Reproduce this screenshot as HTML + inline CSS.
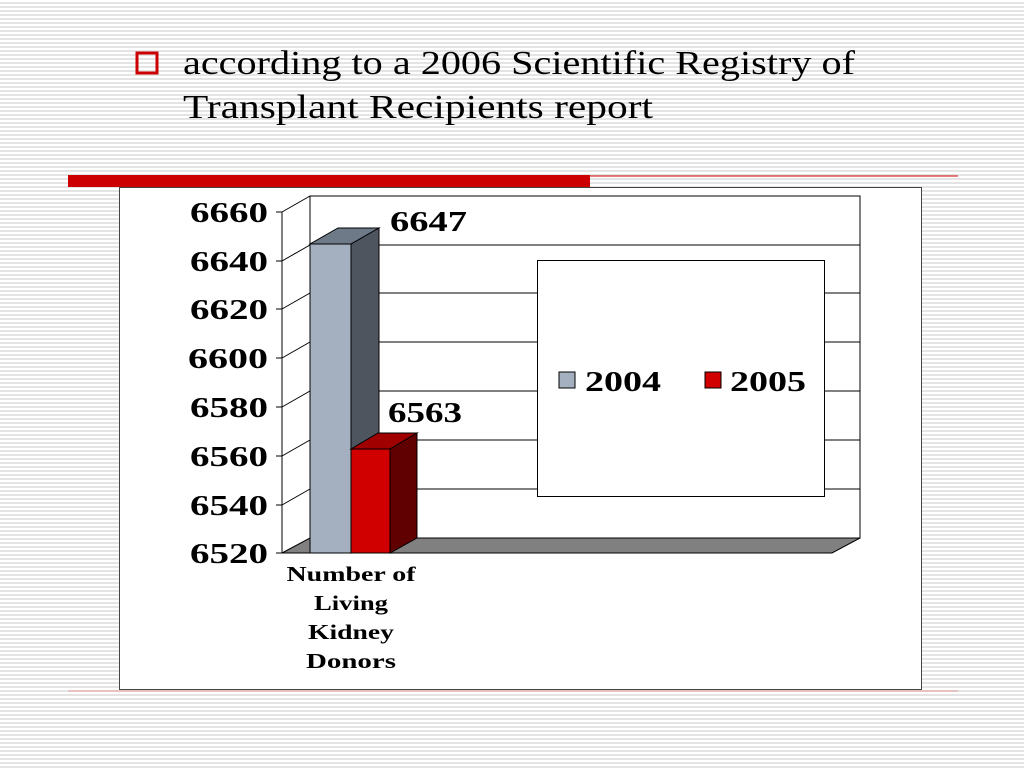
<!DOCTYPE html>
<html><head><style>
body{margin:0;width:1024px;height:768px;overflow:hidden;background:repeating-linear-gradient(#fff 0 2px,#e4e4e4 2px 4px);}
</style></head><body>
<svg width="1024" height="768" xmlns="http://www.w3.org/2000/svg" style="position:absolute;left:0;top:0">
<rect x="137" y="53" width="20" height="20" fill="none" stroke="#c00" stroke-width="3"/>
<text x="183" y="74" font-family="Liberation Serif, serif" font-size="34" fill="#000" textLength="672" lengthAdjust="spacingAndGlyphs">according to a 2006 Scientific Registry of</text>
<text x="183" y="118" font-family="Liberation Serif, serif" font-size="34" fill="#000" textLength="470" lengthAdjust="spacingAndGlyphs">Transplant Recipients report</text>
<rect x="68" y="175" width="522" height="12" fill="#c00"/>
<line x1="590" y1="176" x2="958" y2="176" stroke="#c00" stroke-width="1"/>
<line x1="68" y1="691" x2="958" y2="691" stroke="#e8a0a0" stroke-width="1"/>
<rect x="119.5" y="187.5" width="802" height="502" fill="#fff" stroke="#444"/>
<g stroke="#000" stroke-width="1" fill="none">
<rect x="310" y="196" width="550" height="342" fill="#fff"/>
<line x1="310" y1="245" x2="860" y2="245"/><line x1="310" y1="293" x2="860" y2="293"/>
<line x1="310" y1="342" x2="860" y2="342"/><line x1="310" y1="391" x2="860" y2="391"/>
<line x1="310" y1="440" x2="860" y2="440"/><line x1="310" y1="489" x2="860" y2="489"/>
<line x1="282" y1="212" x2="282" y2="553"/>
<line x1="282" y1="212" x2="310" y2="196"/><line x1="282" y1="261" x2="310" y2="245"/>
<line x1="282" y1="309" x2="310" y2="293"/><line x1="282" y1="358" x2="310" y2="342"/>
<line x1="282" y1="407" x2="310" y2="391"/><line x1="282" y1="456" x2="310" y2="440"/>
<line x1="282" y1="505" x2="310" y2="489"/>
<line x1="276" y1="212" x2="282" y2="212"/><line x1="276" y1="261" x2="282" y2="261"/>
<line x1="276" y1="309" x2="282" y2="309"/><line x1="276" y1="358" x2="282" y2="358"/>
<line x1="276" y1="407" x2="282" y2="407"/><line x1="276" y1="456" x2="282" y2="456"/>
<line x1="276" y1="505" x2="282" y2="505"/><line x1="276" y1="553" x2="282" y2="553"/>
<polygon points="282,553 832,553 860,538 310,538" fill="#808080"/>
<polygon points="310,244 351,244 379,228 338,228" fill="#6e7a88"/>
<polygon points="351,244 379,228 379,538 351,553" fill="#4e555e"/>
<rect x="310" y="244" width="41" height="309" fill="#a4b0c0"/>
<polygon points="351,449 390,449 417,433 378,433" fill="#a00000"/>
<polygon points="390,449 417,433 417,538 390,553" fill="#600000"/>
<rect x="351" y="449" width="39" height="104" fill="#d00000"/>
<rect x="537.5" y="260.5" width="287" height="236" fill="#fff"/>
<rect x="559" y="372" width="16" height="16" fill="#a4b0c0"/>
<rect x="705" y="372" width="16" height="16" fill="#d00000"/>
</g>
<g font-family="Liberation Serif, serif" font-weight="bold" font-size="29" fill="#000">
<text x="190" y="222" textLength="78" lengthAdjust="spacingAndGlyphs">6660</text>
<text x="190" y="271" textLength="78" lengthAdjust="spacingAndGlyphs">6640</text>
<text x="190" y="319" textLength="78" lengthAdjust="spacingAndGlyphs">6620</text>
<text x="188" y="368" textLength="80" lengthAdjust="spacingAndGlyphs">6600</text>
<text x="190" y="417" textLength="78" lengthAdjust="spacingAndGlyphs">6580</text>
<text x="190" y="466" textLength="78" lengthAdjust="spacingAndGlyphs">6560</text>
<text x="190" y="515" textLength="78" lengthAdjust="spacingAndGlyphs">6540</text>
<text x="190" y="563" textLength="78" lengthAdjust="spacingAndGlyphs">6520</text>
<text x="390" y="231" textLength="77" lengthAdjust="spacingAndGlyphs">6647</text>
<text x="388" y="422" textLength="74" lengthAdjust="spacingAndGlyphs">6563</text>
<text x="585" y="391" textLength="76" lengthAdjust="spacingAndGlyphs">2004</text>
<text x="730" y="391" textLength="76" lengthAdjust="spacingAndGlyphs">2005</text>
</g>
<g font-family="Liberation Serif, serif" font-weight="bold" font-size="21" fill="#000" text-anchor="middle">
<text x="351" y="581" textLength="129" lengthAdjust="spacingAndGlyphs">Number of</text><text x="351" y="610" textLength="74" lengthAdjust="spacingAndGlyphs">Living</text>
<text x="351" y="639" textLength="86" lengthAdjust="spacingAndGlyphs">Kidney</text><text x="351" y="668" textLength="90" lengthAdjust="spacingAndGlyphs">Donors</text>
</g>
</svg>
</body></html>
